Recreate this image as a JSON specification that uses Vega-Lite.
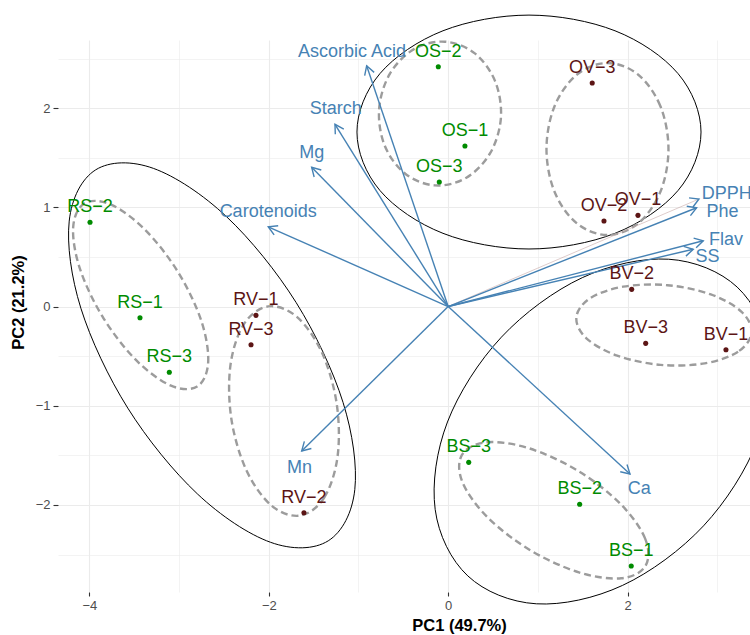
{
  "$schema": "https://vega.github.io/schema/vega-lite/v6.json",
  "width": 692,
  "height": 552,
  "autosize": {"type": "none"},
  "padding": {"left": 58, "top": 40, "right": 0, "bottom": 43},
  "background": "white",
  "config": {
    "view": {"stroke": null},
    "axis": {
      "domain": false,
      "gridColor": "#EBEBEB",
      "tickColor": "#333333",
      "tickWidth": 1.1,
      "labelFont": "Liberation Sans",
      "labelFontSize": 13,
      "labelColor": "#4D4D4D",
      "labelPadding": 3,
      "titleFont": "Liberation Sans",
      "titleFontSize": 16.5,
      "titleFontWeight": "bold",
      "titleColor": "black"
    }
  },
  "datasets": {
    "scores": [
      {"label": "OS−2", "type": "S", "x": -0.110, "y": 2.417},
      {"label": "OS−1", "type": "S", "x": 0.187, "y": 1.618},
      {"label": "OS−3", "type": "S", "x": -0.099, "y": 1.255},
      {"label": "OV−3", "type": "V", "x": 1.606, "y": 2.253},
      {"label": "OV−2", "type": "V", "x": 1.737, "y": 0.862},
      {"label": "OV−1", "type": "V", "x": 2.116, "y": 0.919},
      {"label": "BV−2", "type": "V", "x": 2.046, "y": 0.173},
      {"label": "BV−3", "type": "V", "x": 2.202, "y": -0.371},
      {"label": "BV−1", "type": "V", "x": 3.097, "y": -0.435},
      {"label": "BS−3", "type": "S", "x": 0.229, "y": -1.571},
      {"label": "BS−2", "type": "S", "x": 1.466, "y": -1.994},
      {"label": "BS−1", "type": "S", "x": 2.041, "y": -2.616},
      {"label": "RS−2", "type": "S", "x": -3.993, "y": 0.849},
      {"label": "RS−1", "type": "S", "x": -3.436, "y": -0.113},
      {"label": "RS−3", "type": "S", "x": -3.109, "y": -0.663},
      {"label": "RV−1", "type": "V", "x": -2.143, "y": -0.089},
      {"label": "RV−3", "type": "V", "x": -2.198, "y": -0.385},
      {"label": "RV−2", "type": "V", "x": -1.608, "y": -2.079}
    ],
    "loadings": [
      {"var": "Ascorbic Acid", "x": -0.909, "y": 2.427, "lx": -1.072, "ly": 2.569},
      {"var": "Starch", "x": -1.262, "y": 1.837, "lx": -1.253, "ly": 1.988},
      {"var": "Mg", "x": -1.522, "y": 1.403, "lx": -1.522, "ly": 1.544},
      {"var": "Carotenoids", "x": -2.006, "y": 0.804, "lx": -2.007, "ly": 0.953},
      {"var": "Mn", "x": -1.633, "y": -1.457, "lx": -1.658, "ly": -1.631},
      {"var": "Ca", "x": 2.027, "y": -1.688, "lx": 2.130, "ly": -1.840},
      {"var": "DPPH", "x": 2.796, "y": 1.084, "lx": 3.105, "ly": 1.131},
      {"var": "Phe", "x": 2.770, "y": 0.996, "lx": 3.058, "ly": 0.950},
      {"var": "Flav", "x": 2.844, "y": 0.663, "lx": 3.097, "ly": 0.670},
      {"var": "SS", "x": 2.732, "y": 0.577, "lx": 2.891, "ly": 0.502}
    ],
    "ellipses": [
      {"e": "O", "k": "group", "i": 0, "x": 2.819, "y": 1.759},
      {"e": "O", "k": "group", "i": 1, "x": 2.562, "y": 2.349},
      {"e": "O", "k": "group", "i": 2, "x": 1.860, "y": 2.780},
      {"e": "O", "k": "group", "i": 3, "x": 0.901, "y": 2.938},
      {"e": "O", "k": "group", "i": 4, "x": -0.058, "y": 2.780},
      {"e": "O", "k": "group", "i": 5, "x": -0.760, "y": 2.349},
      {"e": "O", "k": "group", "i": 6, "x": -1.017, "y": 1.759},
      {"e": "O", "k": "group", "i": 7, "x": -0.760, "y": 1.169},
      {"e": "O", "k": "group", "i": 8, "x": -0.058, "y": 0.738},
      {"e": "O", "k": "group", "i": 9, "x": 0.901, "y": 0.580},
      {"e": "O", "k": "group", "i": 10, "x": 1.860, "y": 0.738},
      {"e": "O", "k": "group", "i": 11, "x": 2.562, "y": 1.169},
      {"e": "R", "k": "group", "i": 0, "x": -1.337, "y": -2.362},
      {"e": "R", "k": "group", "i": 1, "x": -1.041, "y": -1.845},
      {"e": "R", "k": "group", "i": 2, "x": -1.172, "y": -0.967},
      {"e": "R", "k": "group", "i": 3, "x": -1.695, "y": 0.040},
      {"e": "R", "k": "group", "i": 4, "x": -2.469, "y": 0.904},
      {"e": "R", "k": "group", "i": 5, "x": -3.287, "y": 1.393},
      {"e": "R", "k": "group", "i": 6, "x": -3.930, "y": 1.378},
      {"e": "R", "k": "group", "i": 7, "x": -4.225, "y": 0.861},
      {"e": "R", "k": "group", "i": 8, "x": -4.095, "y": -0.017},
      {"e": "R", "k": "group", "i": 9, "x": -3.572, "y": -1.024},
      {"e": "R", "k": "group", "i": 10, "x": -2.797, "y": -1.888},
      {"e": "R", "k": "group", "i": 11, "x": -1.980, "y": -2.377},
      {"e": "B", "k": "group", "i": 0, "x": 3.222, "y": 0.196},
      {"e": "B", "k": "group", "i": 1, "x": 3.585, "y": -0.475},
      {"e": "B", "k": "group", "i": 2, "x": 3.448, "y": -1.356},
      {"e": "B", "k": "group", "i": 3, "x": 2.847, "y": -2.211},
      {"e": "B", "k": "group", "i": 4, "x": 1.945, "y": -2.811},
      {"e": "B", "k": "group", "i": 5, "x": 0.983, "y": -2.997},
      {"e": "B", "k": "group", "i": 6, "x": 0.219, "y": -2.716},
      {"e": "B", "k": "group", "i": 7, "x": -0.145, "y": -2.045},
      {"e": "B", "k": "group", "i": 8, "x": -0.008, "y": -1.164},
      {"e": "B", "k": "group", "i": 9, "x": 0.593, "y": -0.309},
      {"e": "B", "k": "group", "i": 10, "x": 1.495, "y": 0.291},
      {"e": "B", "k": "group", "i": 11, "x": 2.457, "y": 0.477},
      {"e": "OS", "k": "sub", "i": 0, "x": 0.588, "y": 1.902},
      {"e": "OS", "k": "sub", "i": 1, "x": 0.524, "y": 2.270},
      {"e": "OS", "k": "sub", "i": 2, "x": 0.297, "y": 2.552},
      {"e": "OS", "k": "sub", "i": 3, "x": -0.036, "y": 2.670},
      {"e": "OS", "k": "sub", "i": 4, "x": -0.381, "y": 2.595},
      {"e": "OS", "k": "sub", "i": 5, "x": -0.651, "y": 2.345},
      {"e": "OS", "k": "sub", "i": 6, "x": -0.770, "y": 1.989},
      {"e": "OS", "k": "sub", "i": 7, "x": -0.707, "y": 1.621},
      {"e": "OS", "k": "sub", "i": 8, "x": -0.479, "y": 1.339},
      {"e": "OS", "k": "sub", "i": 9, "x": -0.147, "y": 1.221},
      {"e": "OS", "k": "sub", "i": 10, "x": 0.198, "y": 1.296},
      {"e": "OS", "k": "sub", "i": 11, "x": 0.468, "y": 1.546},
      {"e": "OV", "k": "sub", "i": 0, "x": 2.456, "y": 1.588},
      {"e": "OV", "k": "sub", "i": 1, "x": 2.365, "y": 2.022},
      {"e": "OV", "k": "sub", "i": 2, "x": 2.116, "y": 2.339},
      {"e": "OV", "k": "sub", "i": 3, "x": 1.776, "y": 2.455},
      {"e": "OV", "k": "sub", "i": 4, "x": 1.436, "y": 2.339},
      {"e": "OV", "k": "sub", "i": 5, "x": 1.187, "y": 2.022},
      {"e": "OV", "k": "sub", "i": 6, "x": 1.096, "y": 1.588},
      {"e": "OV", "k": "sub", "i": 7, "x": 1.187, "y": 1.154},
      {"e": "OV", "k": "sub", "i": 8, "x": 1.436, "y": 0.837},
      {"e": "OV", "k": "sub", "i": 9, "x": 1.776, "y": 0.721},
      {"e": "OV", "k": "sub", "i": 10, "x": 2.116, "y": 0.837},
      {"e": "OV", "k": "sub", "i": 11, "x": 2.365, "y": 1.154},
      {"e": "RS", "k": "sub", "i": 0, "x": -2.798, "y": -0.806},
      {"e": "RS", "k": "sub", "i": 1, "x": -2.676, "y": -0.567},
      {"e": "RS", "k": "sub", "i": 2, "x": -2.752, "y": -0.145},
      {"e": "RS", "k": "sub", "i": 3, "x": -3.012, "y": 0.348},
      {"e": "RS", "k": "sub", "i": 4, "x": -3.384, "y": 0.778},
      {"e": "RS", "k": "sub", "i": 5, "x": -3.766, "y": 1.030},
      {"e": "RS", "k": "sub", "i": 6, "x": -4.058, "y": 1.038},
      {"e": "RS", "k": "sub", "i": 7, "x": -4.181, "y": 0.798},
      {"e": "RS", "k": "sub", "i": 8, "x": -4.104, "y": 0.377},
      {"e": "RS", "k": "sub", "i": 9, "x": -3.844, "y": -0.116},
      {"e": "RS", "k": "sub", "i": 10, "x": -3.473, "y": -0.546},
      {"e": "RS", "k": "sub", "i": 11, "x": -3.090, "y": -0.798},
      {"e": "RV", "k": "sub", "i": 0, "x": -1.652, "y": -2.108},
      {"e": "RV", "k": "sub", "i": 1, "x": -1.382, "y": -1.926},
      {"e": "RV", "k": "sub", "i": 2, "x": -1.233, "y": -1.511},
      {"e": "RV", "k": "sub", "i": 3, "x": -1.244, "y": -0.973},
      {"e": "RV", "k": "sub", "i": 4, "x": -1.411, "y": -0.457},
      {"e": "RV", "k": "sub", "i": 5, "x": -1.692, "y": -0.100},
      {"e": "RV", "k": "sub", "i": 6, "x": -2.009, "y": 0.001},
      {"e": "RV", "k": "sub", "i": 7, "x": -2.279, "y": -0.180},
      {"e": "RV", "k": "sub", "i": 8, "x": -2.428, "y": -0.596},
      {"e": "RV", "k": "sub", "i": 9, "x": -2.417, "y": -1.134},
      {"e": "RV", "k": "sub", "i": 10, "x": -2.250, "y": -1.650},
      {"e": "RV", "k": "sub", "i": 11, "x": -1.969, "y": -2.007},
      {"e": "BV", "k": "sub", "i": 0, "x": 3.382, "y": -0.264},
      {"e": "BV", "k": "sub", "i": 1, "x": 3.232, "y": -0.455},
      {"e": "BV", "k": "sub", "i": 2, "x": 2.861, "y": -0.573},
      {"e": "BV", "k": "sub", "i": 3, "x": 2.367, "y": -0.588},
      {"e": "BV", "k": "sub", "i": 4, "x": 1.884, "y": -0.495},
      {"e": "BV", "k": "sub", "i": 5, "x": 1.541, "y": -0.320},
      {"e": "BV", "k": "sub", "i": 6, "x": 1.429, "y": -0.109},
      {"e": "BV", "k": "sub", "i": 7, "x": 1.580, "y": 0.082},
      {"e": "BV", "k": "sub", "i": 8, "x": 1.951, "y": 0.200},
      {"e": "BV", "k": "sub", "i": 9, "x": 2.445, "y": 0.215},
      {"e": "BV", "k": "sub", "i": 10, "x": 2.928, "y": 0.122},
      {"e": "BV", "k": "sub", "i": 11, "x": 3.271, "y": -0.053},
      {"e": "BS", "k": "sub", "i": 0, "x": 2.200, "y": -2.615},
      {"e": "BS", "k": "sub", "i": 1, "x": 2.196, "y": -2.340},
      {"e": "BS", "k": "sub", "i": 2, "x": 1.920, "y": -1.989},
      {"e": "BS", "k": "sub", "i": 3, "x": 1.445, "y": -1.655},
      {"e": "BS", "k": "sub", "i": 4, "x": 0.897, "y": -1.428},
      {"e": "BS", "k": "sub", "i": 5, "x": 0.426, "y": -1.369},
      {"e": "BS", "k": "sub", "i": 6, "x": 0.155, "y": -1.494},
      {"e": "BS", "k": "sub", "i": 7, "x": 0.158, "y": -1.768},
      {"e": "BS", "k": "sub", "i": 8, "x": 0.434, "y": -2.120},
      {"e": "BS", "k": "sub", "i": 9, "x": 0.910, "y": -2.454},
      {"e": "BS", "k": "sub", "i": 10, "x": 1.457, "y": -2.680},
      {"e": "BS", "k": "sub", "i": 11, "x": 1.929, "y": -2.740}
    ]
  },
  "layer": [
    {
      "data": {"name": "ellipses"},
      "transform": [{"filter": "datum.k === 'group'"}],
      "mark": {"type": "line", "interpolate": "cardinal-closed", "color": "black", "strokeWidth": 1},
      "encoding": {
        "x": {
          "field": "x", "type": "quantitative",
          "scale": {"domain": [-4.35, 3.365], "nice": false, "zero": false},
          "title": "PC1 (49.7%)",
          "axis": {
            "values": [-4, -3, -2, -1, 0, 1, 2, 3],
            "format": "~g",
            "labelExpr": "datum.value % 2 == 0 ? datum.label : ''",
            "tickSize": 4,
            "tickOpacity": {"condition": {"test": "datum.value % 2 != 0", "value": 0}, "value": 1},
            "gridWidth": {"condition": {"test": "datum.value % 2 != 0", "value": 0.6}, "value": 1.1},
            "titleX": 401,
            "titleY": 33,
            "titleAlign": "center",
            "titleBaseline": "middle"
          }
        },
        "y": {
          "field": "y", "type": "quantitative",
          "scale": {"domain": [-2.878, 2.687], "nice": false, "zero": false},
          "title": "PC2 (21.2%)",
          "axis": {
            "values": [-2.5, -2, -1.5, -1, -0.5, 0, 0.5, 1, 1.5, 2, 2.5],
            "format": "~g",
            "labelExpr": "datum.value % 1 == 0 ? datum.label : ''",
            "tickSize": 5,
            "tickOpacity": {"condition": {"test": "datum.value % 1 != 0", "value": 0}, "value": 1},
            "gridWidth": {"condition": {"test": "datum.value % 1 != 0", "value": 0.6}, "value": 1.1},
            "titleX": -40,
            "titleY": 262,
            "titleAngle": 270,
            "titleAlign": "center",
            "titleBaseline": "middle"
          }
        },
        "detail": {"field": "e"},
        "order": {"field": "i", "type": "quantitative"}
      }
    },
    {
      "data": {"name": "ellipses"},
      "transform": [{"filter": "datum.k === 'sub'"}],
      "mark": {"type": "line", "interpolate": "cardinal-closed", "color": "#9C9C9C", "strokeWidth": 2.4, "strokeDash": [7, 4]},
      "encoding": {
        "x": {"field": "x", "type": "quantitative"},
        "y": {"field": "y", "type": "quantitative"},
        "detail": {"field": "e"},
        "order": {"field": "i", "type": "quantitative"}
      }
    },
    {
      "mark": {"type": "rule", "color": "black", "strokeWidth": 1.6, "strokeDash": [6, 5]},
      "encoding": {"x": {"datum": 0, "type": "quantitative"}}
    },
    {
      "mark": {"type": "rule", "color": "black", "strokeWidth": 1.6, "strokeDash": [6, 5]},
      "encoding": {"y": {"datum": 0, "type": "quantitative"}}
    },
    {
      "data": {"name": "loadings"},
      "mark": {"type": "rule"},
      "encoding": {
        "x": {"field": "x", "type": "quantitative"},
        "y": {"field": "y", "type": "quantitative"},
        "x2": {"datum": 0},
        "y2": {"datum": 0},
        "color": {"condition": {"test": "datum.var === 'DPPH'", "value": "#C8AAA8"}, "value": "#4682B4"},
        "strokeWidth": {"condition": {"test": "datum.var === 'DPPH'", "value": 0.6}, "value": 1.4}
      }
    },
    {
      "data": {"name": "loadings"},
      "transform": [{"calculate": "atan2(datum.x * 89.7, datum.y * 99.2) * 180 / PI", "as": "ang"}],
      "mark": {"type": "point", "shape": "M-0.5,0.866L0,0L0.5,0.866", "filled": false, "size": 400, "strokeWidth": 1.4, "color": "#4682B4", "opacity": 1},
      "encoding": {
        "x": {"field": "x", "type": "quantitative"},
        "y": {"field": "y", "type": "quantitative"},
        "angle": {"field": "ang", "type": "quantitative", "scale": null}
      }
    },
    {
      "data": {"name": "loadings"},
      "mark": {"type": "text", "font": "Liberation Sans", "fontSize": 18, "align": "center", "baseline": "middle", "color": "#4682B4"},
      "encoding": {
        "x": {"field": "lx", "type": "quantitative"},
        "y": {"field": "ly", "type": "quantitative"},
        "text": {"field": "var"}
      }
    },
    {
      "data": {"name": "scores"},
      "mark": {"type": "point", "filled": true, "size": 26, "opacity": 1},
      "encoding": {
        "x": {"field": "x", "type": "quantitative"},
        "y": {"field": "y", "type": "quantitative"},
        "color": {"field": "type", "type": "nominal", "scale": {"domain": ["S", "V"], "range": ["#008B00", "#5C1515"]}, "legend": null}
      }
    },
    {
      "data": {"name": "scores"},
      "mark": {"type": "text", "font": "Liberation Sans", "fontSize": 18, "align": "center", "baseline": "middle", "dy": -15},
      "encoding": {
        "x": {"field": "x", "type": "quantitative"},
        "y": {"field": "y", "type": "quantitative"},
        "text": {"field": "label"},
        "color": {"field": "type", "type": "nominal", "scale": {"domain": ["S", "V"], "range": ["#008B00", "#5C1515"]}, "legend": null}
      }
    }
  ]
}
